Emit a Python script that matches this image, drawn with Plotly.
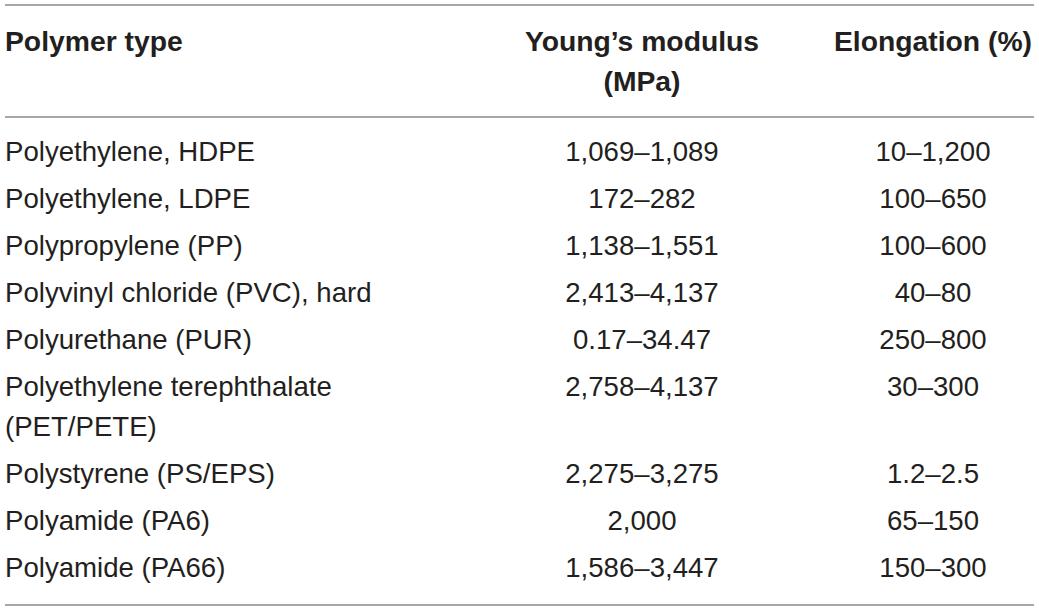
import plotly.graph_objects as go

# ---- data ----
headers = ["Polymer type", "Young’s modulus<br>(MPa)", "Elongation (%)"]
polymers = [
    "Polyethylene, HDPE",
    "Polyethylene, LDPE",
    "Polypropylene (PP)",
    "Polyvinyl chloride (PVC), hard",
    "Polyurethane (PUR)",
    "Polyethylene terephthalate<br>(PET/PETE)",
    "Polystyrene (PS/EPS)",
    "Polyamide (PA6)",
    "Polyamide (PA66)",
]
youngs_modulus = [
    "1,069–1,089", "172–282", "1,138–1,551", "2,413–4,137", "0.17–34.47",
    "2,758–4,137", "2,275–3,275", "2,000", "1,586–3,447",
]
elongation = [
    "10–1,200", "100–650", "100–600", "40–80", "250–800",
    "30–300", "1.2–2.5", "65–150", "150–300",
]

# ---- layout constants ----
W, H = 1039, 611
FONT = "Liberation Sans, Arial, Helvetica, sans-serif"
TXT = "#231f20"
LINE = "#8a8a8a"
col_x = [5, 642, 933]
col_pos = ["middle right", "middle center", "middle center"]
header_y0 = 44
line_gap = 40
row_y0 = 154
row_gap = 47.0
x0, x1 = 5, 1034

fig = go.Figure()

def add_lines(texts, xs, ys, pos, size, bold=False):
    X, Y, T = [], [], []
    for t, x, y in zip(texts, xs, ys):
        for k, part in enumerate(t.split("<br>")):
            X.append(x)
            Y.append(y + k * line_gap)
            T.append(f"<b>{part}</b>" if bold else part)
    fig.add_trace(go.Scatter(
        x=X, y=Y, text=T, mode="text", textposition=pos,
        textfont=dict(family=FONT, size=size, color=TXT),
        hoverinfo="skip", showlegend=False, cliponaxis=False,
    ))

# headers
for h, x, p in zip(headers, col_x, col_pos):
    add_lines([h], [x], [header_y0], p, 28.3, bold=True)

# rows: compute y positions, accounting for extra wrapped line
ys = []
y = row_y0
for name in polymers:
    ys.append(y)
    extra = name.count("<br>")
    y += row_gap + extra * line_gap
row_ys = ys

add_lines(polymers, [col_x[0]] * len(polymers), row_ys, col_pos[0], 27.6)
add_lines(youngs_modulus, [col_x[1]] * len(youngs_modulus), row_ys, col_pos[1], 27.6)
add_lines(elongation, [col_x[2]] * len(elongation), row_ys, col_pos[2], 27.6)

for ly in [5, 117, 605]:
    fig.add_shape(type="line", x0=x0, x1=x1, y0=ly, y1=ly,
                  line=dict(color=LINE, width=1.6), xref="x", yref="y")

fig.update_layout(
    width=W, height=H,
    margin=dict(l=0, r=0, t=0, b=0),
    paper_bgcolor="white", plot_bgcolor="white",
    xaxis=dict(range=[0, W], visible=False, fixedrange=True),
    yaxis=dict(range=[H, 0], visible=False, fixedrange=True),
)

fig.write_html(
    "out.html",
    config={"displayModeBar": False},
    post_script="document.body.style.margin='0';document.body.style.overflow='hidden';",
)
